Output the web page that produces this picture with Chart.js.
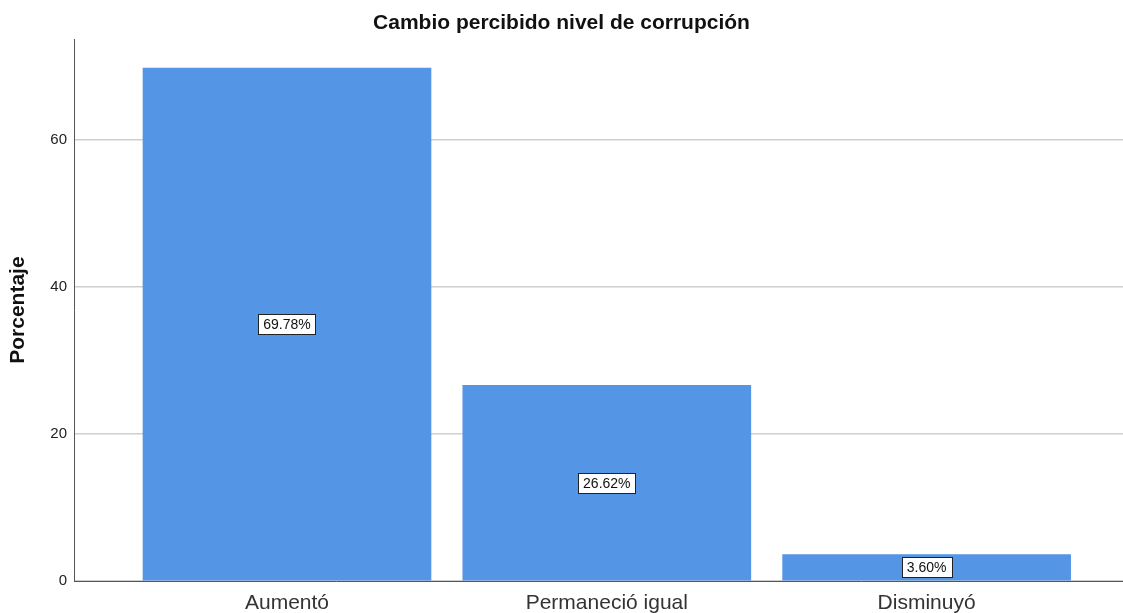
<!DOCTYPE html>
<html>
<head>
<meta charset="utf-8">
<script src="https://cdn.jsdelivr.net/npm/chart.js@4"></script>
<style>
    body { margin: 0; background: #fff; }
    #wrap { width: 1123px; height: 613px; }
</style>
</head>
<body>
<div id="wrap"><canvas id="corrChart"></canvas></div>
<script>
const categories = ["Aumentó", "Permaneció igual", "Disminuyó"];
const percentages = [69.78, 26.62, 3.60];
const yTicks = [0, 20, 40, 60];

const FONT = "'Liberation Sans', Arial, sans-serif";

// boxed value labels in the middle of each bar
const boxLabels = {
    id: "boxLabels",
    afterDatasetsDraw(chart) {
        const c = chart.ctx;
        const meta = chart.getDatasetMeta(0);
        c.save();
        c.font = "14px " + FONT;
        c.textAlign = "center";
        c.textBaseline = "middle";
        meta.data.forEach((bar, i) => {
            const txt = percentages[i].toFixed(2) + "%";
            const mid = (bar.y + bar.base) / 2;
            const w = Math.round(c.measureText(txt).width + 10);
            const h = 20;
            const x0 = Math.round(bar.x - w / 2) + 0.5;
            const y0 = Math.round(mid - h / 2) + 0.5;
            c.fillStyle = "#fff";
            c.fillRect(x0, y0, w, h);
            c.strokeStyle = "#222";
            c.lineWidth = 1;
            c.strokeRect(x0, y0, w, h);
            c.fillStyle = "#111";
            c.fillText(txt, bar.x, mid + 1);
        });
        c.restore();
    },
};

const ctx = document.getElementById("corrChart");
new Chart(ctx, {
    type: "bar",
    data: {
        datasets: [
            {
                data: percentages.map((v, i) => ({ x: i, y: v })),
                backgroundColor: "#5595e5",
                borderWidth: 0,
                barThickness: 288,
            },
        ],
    },
    options: {
        responsive: true,
        maintainAspectRatio: false,
        animation: false,
        layout: { padding: 0 },
        plugins: {
            legend: { display: false },
            tooltip: { enabled: false },
            title: {
                display: true,
                text: "Cambio percibido nivel de corrupción",
                color: "#111",
                font: { family: FONT, size: 21, weight: "bold" },
                padding: { top: 11, bottom: 3 },
            },
        },
        scales: {
            x: {
                type: "linear",
                offset: false,
                min: -0.666,
                max: 2.614,
                afterBuildTicks: (s) => {
                    s.ticks = categories.map((_, i) => ({ value: i }));
                },
                afterFit: (s) => { s.height = 32; },
                grid: { display: false, drawTicks: false },
                border: { display: true, color: "#555", width: 1 },
                ticks: {
                    callback: (v) => categories[v],
                    color: "#333",
                    padding: 10,
                    maxRotation: 0,
                    autoSkip: false,
                    font: { family: FONT, size: 21 },
                },
            },
            y: {
                min: 0,
                max: 73.7,
                afterBuildTicks: (s) => {
                    s.ticks = yTicks.map((v) => ({ value: v }));
                },
                afterFit: (s) => { s.width = 74; },
                grid: { color: "#cfcfcf", lineWidth: 1.5, drawTicks: false },
                border: { display: true, color: "#555", width: 1 },
                ticks: {
                    color: "#222",
                    padding: 7,
                    font: { family: FONT, size: 15 },
                },
                title: {
                    display: true,
                    text: "Porcentaje",
                    color: "#111",
                    font: { family: FONT, size: 21, weight: "bold" },
                    padding: { top: 6, bottom: 0 },
                },
            },
        },
    },
    plugins: [boxLabels],
});
</script>
</body>
</html>
